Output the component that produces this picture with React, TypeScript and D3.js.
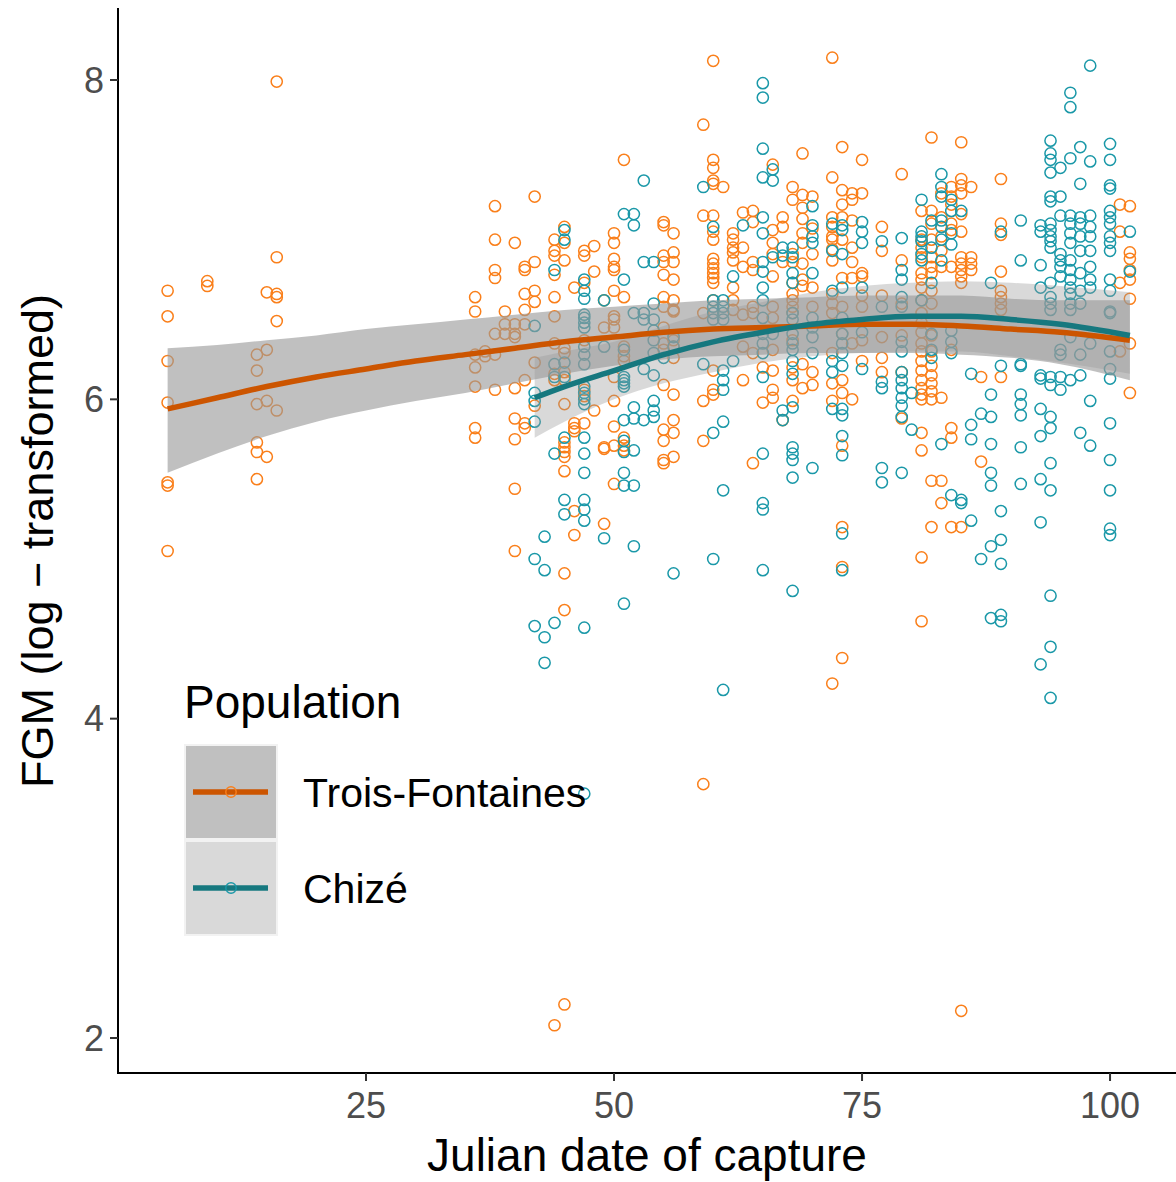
import React from "react";
import * as d3 from "d3";

const W = 1176;
const H = 1182;

// Trois-Fontaines: [julian day, FGM values]
const tfPoints: [number, number[]][] = [
  [5, [6.68, 6.52, 6.24, 5.98, 5.48, 5.46, 5.05]],
  [9, [6.74, 6.71]],
  [14, [6.28, 6.18, 5.97, 5.73, 5.67, 5.5]],
  [15, [6.67, 6.31, 5.99, 5.64]],
  [16, [7.99, 6.89, 6.66, 6.64, 6.49, 5.93]],
  [36, [6.64, 6.55, 6.28, 6.2, 6.08, 5.82, 5.76]],
  [37, [6.3, 6.27]],
  [38, [7.21, 7.0, 6.81, 6.76, 6.41, 6.28, 6.06]],
  [39, [6.55, 6.47, 6.41]],
  [40, [6.98, 6.47, 6.41, 6.39, 6.07, 5.88, 5.75, 5.44, 5.05]],
  [41, [6.83, 6.81, 6.66, 6.56, 6.47, 6.12, 5.85, 5.82]],
  [42, [7.27, 6.86, 6.68, 6.61, 6.23, 5.96]],
  [44, [7.0, 6.93, 6.9, 6.78, 6.64, 6.52, 6.35, 6.16, 6.12, 2.08]],
  [45, [7.08, 6.98, 6.87, 6.32, 6.29, 6.17, 6.12, 5.97, 5.73, 5.7, 5.67, 5.64, 5.55, 4.91, 4.68, 2.21]],
  [46, [6.7, 5.85, 5.82, 5.8, 5.3, 5.15]],
  [47, [6.93, 6.9, 6.73, 6.37, 6.06, 6.02, 5.85]],
  [48, [6.96, 6.8, 5.93]],
  [49, [6.62, 6.45, 5.7, 5.69, 5.22]],
  [50, [7.04, 6.98, 6.88, 6.83, 6.81, 6.68, 6.52, 6.5, 6.45, 6.14, 5.99, 5.83, 5.71, 5.47]],
  [51, [7.5, 6.64, 6.33, 6.27, 6.24, 5.76, 5.71, 5.68]],
  [55, [7.11, 7.09, 6.9, 6.86, 6.78, 6.64, 6.58, 6.45, 6.35, 6.31, 6.09, 5.81, 5.74, 5.62, 5.6]],
  [56, [7.04, 6.92, 6.86, 6.75, 6.62, 6.56, 6.55, 6.37, 6.33, 6.26, 6.03, 5.87, 5.79, 5.64]],
  [59, [7.72, 7.15, 6.54, 5.99, 5.74, 3.59]],
  [60, [8.12, 7.5, 7.45, 7.37, 7.35, 7.15, 7.05, 7.0, 6.88, 6.85, 6.82, 6.79, 6.76, 6.73, 6.62, 6.18, 6.06, 6.03]],
  [61, [7.33]],
  [62, [7.04, 7.0, 6.95, 6.92, 6.87, 6.7, 6.62, 6.56]],
  [63, [7.17, 6.95, 6.83, 6.53, 6.33, 6.12]],
  [64, [7.18, 7.11, 6.86, 6.81, 6.58, 6.54, 6.29, 5.6]],
  [65, [6.2, 5.98]],
  [66, [7.47, 7.06, 6.98, 6.91, 6.77, 6.58, 6.51, 6.31, 6.18, 6.06, 6.01]],
  [67, [7.14, 7.08, 6.86, 5.87]],
  [68, [7.33, 7.25, 6.91, 6.86, 6.73, 6.66, 6.62, 6.58, 6.54, 6.37, 6.2, 6.12, 5.99]],
  [69, [7.54, 7.28, 7.2, 7.13, 7.04, 6.98, 6.85, 6.75, 6.71, 6.22, 6.07]],
  [70, [7.27, 7.07, 6.91, 6.7, 6.58, 6.17, 6.09]],
  [72, [8.14, 7.39, 7.14, 7.08, 7.02, 7.0, 6.94, 6.87, 6.66, 6.6, 6.54, 6.29, 6.1, 5.99, 4.22]],
  [73, [7.58, 7.31, 7.22, 7.14, 7.0, 6.76, 6.58, 6.41, 6.12, 6.04, 5.71, 5.2, 4.95, 4.38]],
  [74, [7.29, 7.25, 7.12, 6.95, 6.86, 6.76, 6.35, 6.0]],
  [75, [7.5, 7.29, 6.79, 6.77, 6.65, 6.58, 6.37, 6.24]],
  [77, [7.08, 6.93, 6.65, 6.39, 6.26, 6.17]],
  [79, [7.41, 6.87, 6.6, 6.4, 6.17, 5.88]],
  [81, [7.18, 7.0, 6.95, 6.89, 6.79, 6.75, 6.7, 6.62, 6.54, 6.48, 6.42, 6.35, 6.3, 6.24, 6.18, 6.12, 6.07, 6.03, 6.0, 5.79, 5.68, 5.01, 4.61]],
  [82, [7.64, 7.18, 7.1, 7.0, 6.89, 6.83, 6.79, 6.68, 6.6, 6.4, 6.3, 6.21, 6.15, 6.1, 6.05, 6.0, 5.49, 5.2]],
  [83, [7.29, 7.14, 7.02, 6.93, 6.83, 6.01, 5.49, 5.35]],
  [84, [7.33, 7.27, 7.22, 7.1, 7.06, 6.83, 6.31, 5.82, 5.76, 5.2]],
  [85, [7.61, 7.38, 7.34, 7.29, 7.16, 7.05, 6.89, 6.85, 6.81, 6.77, 6.73, 5.2, 2.17]],
  [86, [7.33, 6.89, 6.85, 6.81]],
  [87, [6.14, 5.61]],
  [89, [7.38, 7.1, 7.03, 6.8, 6.68, 6.64, 6.6, 6.56, 6.14]],
  [101, [7.22, 7.05, 6.73, 6.3]],
  [102, [7.21, 6.92, 6.88, 6.81, 6.75, 6.63, 6.35, 6.04]],
];

// Chizé: [julian day, FGM values]
const chPoints: [number, number[]][] = [
  [42, [6.46, 6.04, 5.99, 5.86, 5.0, 4.58]],
  [43, [5.14, 4.93, 4.51, 4.35]],
  [44, [6.81, 6.22, 6.14, 5.66, 4.6]],
  [45, [7.06, 7.0, 6.23, 6.14, 5.76, 5.37, 5.28]],
  [47, [6.75, 6.68, 6.63, 6.53, 6.51, 6.48, 6.45, 6.33, 6.28, 6.22, 6.08, 6.04, 6.0, 5.97, 5.76, 5.66, 5.54, 5.37, 5.31, 5.24, 4.57, 3.53]],
  [49, [6.62, 6.33, 5.13]],
  [51, [7.16, 6.75, 6.31, 6.14, 6.12, 6.1, 6.08, 5.87, 5.74, 5.67, 5.54, 5.46, 4.72]],
  [52, [7.16, 7.09, 6.54, 5.95, 5.88, 5.68, 5.46, 5.08]],
  [53, [7.37, 6.86, 6.54, 6.5, 6.19, 5.87]],
  [54, [6.86, 6.6, 6.5, 6.43, 6.37, 6.29, 6.15, 5.99, 5.93, 5.89]],
  [55, [6.26]],
  [56, [6.39, 6.33, 4.91]],
  [59, [7.33, 6.22]],
  [60, [7.08, 6.62, 6.58, 6.54, 6.5, 5.79, 5.0]],
  [61, [6.62, 6.58, 6.54, 6.5, 6.18, 6.12, 6.06, 5.86, 5.43, 4.18]],
  [62, [6.77, 6.24]],
  [63, [7.09]],
  [65, [7.98, 7.89, 7.57, 7.39, 7.14, 7.04, 6.86, 6.8, 6.7, 6.62, 6.51, 6.41, 6.35, 6.29, 6.14, 5.66, 5.35, 5.31, 4.93]],
  [66, [7.44, 7.37, 6.89, 6.41]],
  [67, [6.95, 6.9, 5.93, 5.87]],
  [68, [6.95, 6.89, 6.79, 6.73, 6.54, 6.5, 6.41, 6.35, 6.31, 6.24, 6.16, 5.95, 5.7, 5.66, 5.62, 5.51, 4.8]],
  [70, [7.21, 7.09, 7.02, 6.98, 6.79, 6.51, 6.45, 6.39, 6.29, 5.57]],
  [72, [7.1, 6.93, 6.68, 6.24, 6.17, 5.94]],
  [73, [7.09, 7.06, 6.91, 6.7, 6.51, 6.41, 6.35, 6.29, 6.21, 5.94, 5.9, 5.77, 5.65, 5.16, 4.93]],
  [75, [7.11, 7.05, 6.98, 6.7, 6.42, 6.19]],
  [77, [6.99, 6.58, 6.11, 6.07, 5.57, 5.48]],
  [79, [7.01, 6.81, 6.75, 6.64, 6.58, 6.36, 6.3, 6.17, 6.12, 6.07, 6.01, 5.96, 5.89, 5.54]],
  [80, [6.04, 5.81]],
  [81, [7.25, 7.05, 7.02, 6.99, 6.91, 6.87, 6.62]],
  [82, [7.12, 6.95, 6.73, 6.41, 6.31, 6.26]],
  [83, [7.41, 7.33, 7.27, 7.12, 7.08, 7.0, 6.87, 5.72]],
  [84, [7.25, 7.18, 7.04, 6.97, 6.43, 6.36, 6.29, 5.4]],
  [85, [7.18, 5.37, 5.35]],
  [86, [6.16, 5.84, 5.75, 5.24]],
  [87, [5.91, 5.0]],
  [88, [6.73, 6.03, 5.89, 5.72, 5.54, 5.46, 5.08, 4.63]],
  [89, [7.05, 6.21, 5.3, 5.12, 4.97, 4.65, 4.61]],
  [91, [7.12, 6.87, 6.22, 6.21, 6.03, 5.97, 5.9, 5.7, 5.47]],
  [93, [7.09, 7.05, 6.84, 6.7, 6.15, 6.13, 5.94, 5.77, 5.5, 5.23, 4.34]],
  [94, [7.62, 7.54, 7.5, 7.42, 7.27, 7.24, 7.1, 7.06, 7.02, 6.99, 6.95, 6.73, 6.64, 6.6, 6.56, 6.14, 6.09, 5.89, 5.82, 5.6, 5.43, 4.77, 4.45, 4.13]],
  [95, [7.45, 7.27, 7.15, 6.91, 6.87, 6.83, 6.77, 6.31, 6.28, 6.14, 6.06]],
  [96, [7.92, 7.83, 7.51, 7.15, 7.1, 7.04, 6.98, 6.87, 6.81, 6.75, 6.7, 6.66, 6.6, 6.56, 6.39, 6.12]],
  [97, [7.58, 7.35, 7.14, 7.1, 7.02, 6.93, 6.79, 6.68, 6.6, 6.28, 6.15, 5.79]],
  [98, [8.09, 7.49, 7.15, 7.08, 7.02, 6.93, 6.83, 6.75, 6.7, 6.35, 5.99, 5.71]],
  [100, [7.6, 7.5, 7.34, 7.32, 7.18, 7.14, 7.1, 7.02, 6.98, 6.93, 6.75, 6.68, 6.55, 6.54, 6.3, 6.19, 6.13, 5.85, 5.62, 5.43, 5.19, 5.15]],
  [102, [7.05, 6.8]],
];

// Smoothed fits (loess) with confidence bands
const fitDaysTF = [5, 10, 15, 20, 25, 30, 35, 40, 45, 50, 55, 60, 65, 70, 75, 80, 85, 90, 95, 102];
const fitTF = [5.94, 6.01, 6.08, 6.14, 6.19, 6.24, 6.28, 6.32, 6.36, 6.39, 6.42, 6.44, 6.45, 6.46, 6.47, 6.47, 6.46, 6.44, 6.42, 6.37];
const loTF = [5.54, 5.66, 5.77, 5.86, 5.93, 5.99, 6.04, 6.1, 6.16, 6.21, 6.25, 6.27, 6.28, 6.29, 6.29, 6.29, 6.28, 6.26, 6.22, 6.12];
const hiTF = [6.32, 6.34, 6.37, 6.4, 6.44, 6.47, 6.5, 6.53, 6.56, 6.58, 6.6, 6.62, 6.63, 6.64, 6.65, 6.65, 6.65, 6.63, 6.62, 6.62];

const fitDaysCH = [42, 45, 50, 55, 60, 65, 70, 75, 80, 85, 90, 95, 102];
const fitCH = [6.01, 6.08, 6.18, 6.28, 6.36, 6.42, 6.47, 6.5, 6.52, 6.52, 6.5, 6.47, 6.4];
const loCH = [5.76, 5.86, 6.0, 6.1, 6.17, 6.23, 6.27, 6.29, 6.3, 6.3, 6.27, 6.23, 6.16];
const hiCH = [6.26, 6.3, 6.36, 6.46, 6.55, 6.61, 6.67, 6.71, 6.73, 6.74, 6.73, 6.71, 6.67];

const xTicks = [25, 50, 75, 100];
const yTicks = [2, 4, 6, 8];
const legendLabels = ["Trois-Fontaines", "Chizé"];

const COL_TF_PT = "#FA7F1A";
const COL_CH_PT = "#1A98A8";
const COL_TF_LINE = "#CC5500";
const COL_CH_LINE = "#16787F";
const FONT = "'Liberation Sans', Arial, Helvetica, sans-serif";

export default function App() {
  const x = d3.scaleLinear().domain([0.15, 106.85]).range([119.5, 1178]);
  const y = d3.scaleLinear().domain([2, 8]).range([1038, 80]);

  const flat = (rows: [number, number[]][]) =>
    rows.flatMap(([d, vals]) => vals.map((v) => [d, v] as [number, number]));
  const tf = flat(tfPoints);
  const ch = flat(chPoints);

  const mkLine = (days: number[], vals: number[]) =>
    d3
      .line<number>()
      .x((_, i) => x(days[i]))
      .y((v) => y(v))
      .curve(d3.curveMonotoneX)(vals) || "";
  const mkArea = (days: number[], lo: number[], hi: number[]) =>
    d3
      .area<number>()
      .x((_, i) => x(days[i]))
      .y0((_, i) => y(lo[i]))
      .y1((_, i) => y(hi[i]))
      .curve(d3.curveMonotoneX)(days) || "";

  const axisLeft = 118;
  const axisBottom = 1073;

  return (
    <div>
      <style>{`body{margin:0;background:#fff}`}</style>
      <svg width={W} height={H} style={{ display: "block", fontFamily: FONT }}>
        <rect x={0} y={0} width={W} height={H} fill="#fff" />
        {/* points */}
        <g fill="none" strokeWidth={1.5}>
          {tf.map(([d, v], i) => (
            <circle key={"t" + i} cx={x(d)} cy={y(v)} r={5.6} stroke={COL_TF_PT} />
          ))}
          {ch.map(([d, v], i) => (
            <circle key={"c" + i} cx={x(d)} cy={y(v)} r={5.6} stroke={COL_CH_PT} />
          ))}
        </g>
        {/* ribbons */}
        <path d={mkArea(fitDaysTF, loTF, hiTF)} fill="#999" fillOpacity={0.62} />
        <path d={mkArea(fitDaysCH, loCH, hiCH)} fill="#999" fillOpacity={0.37} />
        {/* fitted lines */}
        <path d={mkLine(fitDaysTF, fitTF)} fill="none" stroke={COL_TF_LINE} strokeWidth={5.5} />
        <path d={mkLine(fitDaysCH, fitCH)} fill="none" stroke={COL_CH_LINE} strokeWidth={5.5} />

        {/* axes */}
        <line x1={axisLeft} x2={axisLeft} y1={8} y2={axisBottom + 1} stroke="#000" strokeWidth={2} />
        <line x1={axisLeft - 1} x2={1176} y1={axisBottom} y2={axisBottom} stroke="#000" strokeWidth={2} />
        {yTicks.map((t) => (
          <g key={"yt" + t}>
            <line x1={axisLeft - 8} x2={axisLeft} y1={y(t)} y2={y(t)} stroke="#333" strokeWidth={2} />
            <text x={axisLeft - 14} y={y(t)} dy="0.35em" textAnchor="end" fontSize={36} fill="#4D4D4D">
              {t}
            </text>
          </g>
        ))}
        {xTicks.map((t) => (
          <g key={"xt" + t}>
            <line x1={x(t)} x2={x(t)} y1={axisBottom} y2={axisBottom + 8} stroke="#333" strokeWidth={2} />
            <text x={x(t)} y={axisBottom + 45} textAnchor="middle" fontSize={36} fill="#4D4D4D">
              {t}
            </text>
          </g>
        ))}
        <text x={647} y={1171} textAnchor="middle" fontSize={46} fill="#000">
          Julian date of capture
        </text>
        <text
          transform={`translate(53, 541) rotate(-90)`}
          textAnchor="middle"
          fontSize={45}
          fill="#000"
        >
          FGM (log − transformed)
        </text>

        {/* legend */}
        <text x={184} y={718} fontSize={46} fill="#000">
          Population
        </text>
        {legendLabels.map((lab, i) => {
          const top = 745 + i * 96;
          const cy = top + 47;
          const lc = i === 0 ? COL_TF_LINE : COL_CH_LINE;
          const pc = i === 0 ? COL_TF_PT : COL_CH_PT;
          return (
            <g key={lab}>
              <rect x={185} y={top} width={92} height={94} fill="#fff" stroke="#F2F2F2" strokeWidth={2} />
              <rect x={186} y={top + 1} width={90} height={92} fill="#999" fillOpacity={i === 0 ? 0.62 : 0.37} />
              <line x1={193} x2={268} y1={cy} y2={cy} stroke={lc} strokeWidth={5.5} />
              <circle cx={231} cy={cy} r={5.2} fill="none" stroke={pc} strokeWidth={1.4} />
              <text x={303} y={cy + 15} fontSize={41} fill="#000">
                {lab}
              </text>
            </g>
          );
        })}
      </svg>
    </div>
  );
}
